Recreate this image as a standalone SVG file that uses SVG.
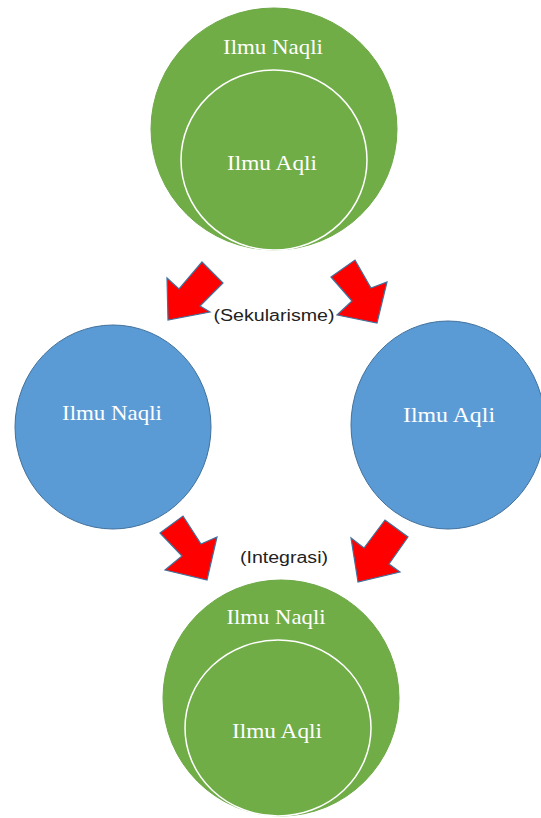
<svg xmlns="http://www.w3.org/2000/svg" width="541" height="818" viewBox="0 0 541 818">
<style>
.g{fill:#70AD47;stroke:#6ca845;stroke-width:1}
.gi{fill:#70AD47;stroke:#ffffff;stroke-width:1.5}
.b{fill:#5B9BD5;stroke:#41719C;stroke-width:1}
.t{font-family:"Liberation Serif","Times New Roman",serif;font-size:22px;fill:#ffffff;text-anchor:middle}
.l{font-family:"Liberation Sans",Arial,sans-serif;font-size:16px;fill:#222222;text-anchor:middle}
.a{fill:#FF0000;stroke:#41719C;stroke-width:1.2;stroke-linejoin:miter}
</style>
<rect width="541" height="818" fill="#ffffff"/>
<g id="connectors">
<polygon class="a" points="168,320 167,278 179,289 202,262 223,283 200,306 210,312"/>
<polygon class="a" points="331,277 355,260 371,288 387,282 377,323 337,315 352,301"/>
<polygon class="a" points="160,533 183,516 201,544 217,537 207,580 165,570 182,556"/>
<polygon class="a" points="358,582 351,538 364,548 385,520 408,537 389,564 400,572"/>
</g>
<g id="top">
<ellipse class="g" cx="274" cy="129" rx="123" ry="121"/>
<ellipse class="gi" cx="274" cy="160" rx="93" ry="90"/>
<text class="t" x="273" y="54" textLength="100" lengthAdjust="spacingAndGlyphs">Ilmu Naqli</text>
<text class="t" x="272" y="170" textLength="90" lengthAdjust="spacingAndGlyphs">Ilmu Aqli</text>
</g>
<g id="left">
<ellipse class="b" cx="113" cy="427" rx="98" ry="102"/>
<text class="t" x="112" y="420" textLength="100" lengthAdjust="spacingAndGlyphs">Ilmu Naqli</text>
</g>
<g id="right">
<ellipse class="b" cx="448" cy="425" rx="97" ry="104"/>
<text class="t" x="449" y="422" textLength="92" lengthAdjust="spacingAndGlyphs">Ilmu Aqli</text>
</g>
<g id="bottom">
<ellipse class="g" cx="281" cy="698" rx="118" ry="118"/>
<ellipse class="gi" cx="278" cy="728" rx="93" ry="88"/>
<text class="t" x="276" y="624" textLength="99" lengthAdjust="spacingAndGlyphs">Ilmu Naqli</text>
<text class="t" x="277" y="738" textLength="90" lengthAdjust="spacingAndGlyphs">Ilmu Aqli</text>
</g>
<g id="labels">
<text class="l" x="274" y="321" textLength="121" lengthAdjust="spacingAndGlyphs">(Sekularisme)</text>
<text class="l" x="284" y="563" textLength="88" lengthAdjust="spacingAndGlyphs">(Integrasi)</text>
</g>
</svg>
